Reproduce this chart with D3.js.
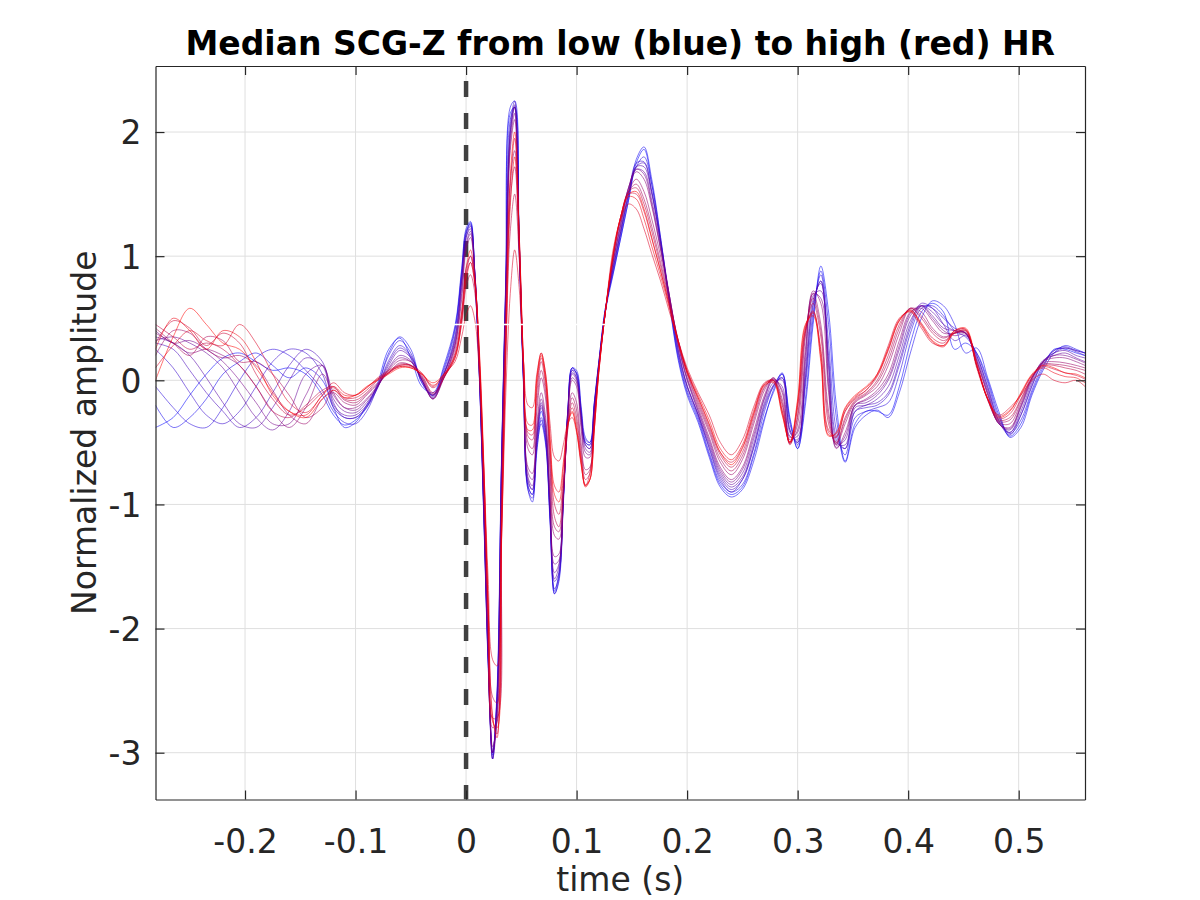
<!DOCTYPE html>
<html><head><meta charset="utf-8">
<script src="https://cdn.jsdelivr.net/npm/d3@7"></script>
<style>body{margin:0;background:#fff}svg{display:block}</style>
</head><body>
<svg id="chart" width="1200" height="900"></svg>
<script>
// ---------- text ----------
const titleText = "Median SCG-Z from low (blue) to high (red) HR";
const xLabelText = "time (s)";
const yLabelText = "Normalized amplitude";
// ---------- axes ----------
const xTicks = [-0.2, -0.1, 0, 0.1, 0.2, 0.3, 0.4, 0.5];
const yTicks = [-3, -2, -1, 0, 1, 2];
const xDomain = [-0.281, 0.56];
const yDomain = [-3.377, 2.532];
const onsetTime = [0];
const whiteMarkTimes = [-0.012, 0.128];
const whiteMarkValue = [0.45];
// ---------- sample times (s) ----------
const times = [
 -0.281,-0.265,-0.25,-0.235,-0.22,-0.205,-0.19,-0.175,-0.16,-0.145,-0.13,-0.12,-0.11,-0.10,-0.09,-0.08,-0.07,-0.06,-0.05,-0.04,-0.03,-0.02,-0.01,
 -0.004,0.000,0.004,0.008,0.012,0.016,0.020,0.024,0.028,0.032,0.036,0.040,0.044,0.048,0.052,0.056,0.060,0.064,0.068,0.072,0.076,0.080,0.084,0.088,0.092,0.096,0.100,0.104,0.108,0.112,0.116,0.120,0.126,
 0.133,0.140,0.147,0.154,0.161,0.168,0.176,0.184,0.192,0.200,
 0.210,0.220,0.230,0.240,0.250,0.260,0.270,
 0.278,0.286,0.293,0.300,0.307,0.314,0.321,0.328,0.335,0.343,0.352,0.362,
 0.372,0.382,0.392,0.402,0.412,0.422,0.432,0.442,0.452,0.462,0.472,0.482,0.492,0.502,0.512,0.522,0.532,0.542,0.552,0.560
];
// ---------- median beats, lowest HR (blue) to highest HR (red) ----------
const hr01 = [
 -0.38,-0.30,-0.12,0.05,0.18,0.22,0.15,0.08,0.10,0.05,-0.12,-0.28,-0.36,-0.32,-0.22,-0.02,0.25,0.34,0.18,-0.05,-0.10,0.10,0.42,
 0.85,1.18,1.27,0.85,0.08,-1.00,-2.20,-3.02,-2.55,-0.70,0.75,2.15,2.20,1.10,0.00,-0.85,-0.92,-0.50,-0.25,-0.45,-1.10,-1.70,-1.55,-0.95,-0.25,0.10,0.05,-0.25,-0.50,-0.52,-0.20,0.12,0.55,
 0.85,1.15,1.45,1.75,1.86,1.58,1.12,0.62,0.18,-0.10,
 -0.32,-0.60,-0.84,-0.92,-0.86,-0.62,-0.30,
 -0.10,0.05,-0.30,-0.55,-0.20,0.45,0.92,0.55,-0.20,-0.65,-0.35,-0.25,
 -0.25,-0.28,-0.05,0.30,0.55,0.62,0.55,0.25,0.30,0.22,0.00,-0.28,-0.45,-0.35,-0.10,0.10,0.25,0.25,0.22,0.20];
const hr02 = [
 -0.20,-0.38,-0.30,-0.15,0.05,0.15,0.22,0.12,0.02,0.10,0.00,-0.22,-0.38,-0.34,-0.20,-0.04,0.22,0.35,0.25,-0.02,-0.12,0.12,0.44,
 0.90,1.22,1.28,0.82,0.05,-1.08,-2.28,-3.05,-2.58,-0.72,0.80,2.20,2.25,1.08,-0.02,-0.88,-0.98,-0.58,-0.32,-0.50,-1.12,-1.72,-1.62,-1.00,-0.28,0.10,0.08,-0.20,-0.46,-0.50,-0.18,0.14,0.58,
 0.86,1.15,1.45,1.78,1.88,1.62,1.15,0.62,0.16,-0.12,
 -0.34,-0.62,-0.86,-0.94,-0.88,-0.66,-0.32,
 -0.08,0.06,-0.32,-0.55,-0.15,0.50,0.88,0.45,-0.30,-0.66,-0.38,-0.28,
 -0.24,-0.30,-0.10,0.22,0.50,0.64,0.60,0.45,0.22,0.26,0.02,-0.25,-0.46,-0.38,-0.12,0.08,0.22,0.28,0.25,0.22];
const hr03 = [
 -0.05,-0.22,-0.35,-0.38,-0.22,0.00,0.18,0.25,0.20,0.08,-0.08,-0.25,-0.34,-0.35,-0.25,-0.05,0.20,0.32,0.22,-0.02,-0.12,0.08,0.40,
 0.88,1.20,1.26,0.80,0.02,-1.10,-2.30,-3.05,-2.50,-0.65,0.85,2.10,2.20,1.05,-0.05,-0.88,-0.95,-0.55,-0.35,-0.52,-1.15,-1.72,-1.60,-0.98,-0.28,0.08,0.06,-0.22,-0.48,-0.50,-0.18,0.14,0.58,
 0.88,1.18,1.48,1.72,1.80,1.58,1.15,0.65,0.20,-0.08,
 -0.30,-0.58,-0.82,-0.90,-0.84,-0.60,-0.25,
 -0.05,0.05,-0.35,-0.52,-0.05,0.55,0.85,0.30,-0.40,-0.60,-0.30,-0.25,
 -0.22,-0.18,0.05,0.38,0.58,0.60,0.52,0.40,0.35,0.22,-0.02,-0.30,-0.43,-0.32,-0.08,0.12,0.24,0.27,0.24,0.22];
const hr04 = [
 0.25,0.10,-0.10,-0.28,-0.35,-0.25,-0.05,0.15,0.25,0.22,0.05,-0.22,-0.30,-0.30,-0.22,-0.06,0.16,0.28,0.20,0.00,-0.12,0.06,0.36,
 0.82,1.18,1.25,0.85,0.05,-1.05,-2.25,-3.00,-2.55,-0.70,0.80,2.05,2.25,1.15,-0.02,-0.85,-0.92,-0.52,-0.30,-0.48,-1.10,-1.68,-1.58,-0.95,-0.25,0.10,0.05,-0.25,-0.50,-0.52,-0.20,0.12,0.56,
 0.90,1.20,1.50,1.75,1.76,1.52,1.10,0.65,0.22,-0.05,
 -0.28,-0.55,-0.80,-0.90,-0.80,-0.55,-0.22,
 -0.05,0.02,-0.40,-0.50,0.00,0.60,0.80,0.20,-0.45,-0.55,-0.25,-0.22,
 -0.20,-0.12,0.12,0.42,0.60,0.58,0.50,0.42,0.38,0.20,-0.05,-0.32,-0.42,-0.28,-0.05,0.15,0.22,0.26,0.23,0.20];
const hr05 = [
 0.30,0.25,0.08,-0.10,-0.25,-0.38,-0.30,-0.10,0.12,0.25,0.15,-0.18,-0.30,-0.30,-0.21,-0.06,0.14,0.26,0.19,0.00,-0.13,0.05,0.34,
 0.80,1.15,1.24,0.86,0.08,-1.02,-2.22,-3.00,-2.62,-0.78,0.72,2.00,2.20,1.18,0.02,-0.80,-0.88,-0.48,-0.22,-0.42,-1.05,-1.62,-1.55,-0.95,-0.28,0.06,0.02,-0.28,-0.52,-0.55,-0.22,0.12,0.56,
 0.90,1.20,1.50,1.72,1.75,1.52,1.12,0.66,0.24,-0.05,
 -0.28,-0.54,-0.78,-0.88,-0.80,-0.55,-0.20,
 -0.04,0.02,-0.40,-0.50,0.02,0.62,0.80,0.15,-0.48,-0.55,-0.25,-0.20,
 -0.18,-0.10,0.15,0.45,0.62,0.58,0.45,0.32,0.36,0.20,-0.06,-0.33,-0.44,-0.28,-0.04,0.14,0.24,0.26,0.24,0.22];
const hr06 = [
 0.35,0.30,0.20,0.02,-0.18,-0.35,-0.38,-0.22,0.00,0.18,0.12,-0.20,-0.28,-0.28,-0.20,-0.05,0.12,0.24,0.18,0.00,-0.14,0.05,0.32,
 0.80,1.15,1.22,0.82,0.05,-1.05,-2.25,-3.00,-2.60,-0.75,0.75,2.00,2.22,1.15,0.00,-0.82,-0.88,-0.45,-0.18,-0.40,-1.05,-1.60,-1.50,-0.92,-0.25,0.08,0.02,-0.28,-0.52,-0.55,-0.22,0.12,0.56,
 0.92,1.22,1.52,1.72,1.72,1.50,1.12,0.68,0.25,-0.04,
 -0.27,-0.52,-0.76,-0.86,-0.78,-0.52,-0.18,
 -0.02,0.00,-0.42,-0.48,0.08,0.65,0.78,0.10,-0.50,-0.52,-0.22,-0.20,
 -0.15,-0.05,0.20,0.48,0.60,0.55,0.45,0.40,0.38,0.18,-0.08,-0.34,-0.42,-0.25,-0.02,0.15,0.22,0.24,0.20,0.18];
const hr07 = [
 0.32,0.35,0.30,0.22,0.10,-0.10,-0.30,-0.40,-0.25,0.05,0.12,-0.15,-0.25,-0.26,-0.18,-0.05,0.10,0.20,0.16,0.00,-0.15,0.05,0.30,
 0.75,1.10,1.20,0.85,0.10,-1.00,-2.20,-3.05,-2.70,-0.85,0.70,1.95,2.20,1.15,0.02,-0.78,-0.85,-0.45,-0.20,-0.38,-1.00,-1.55,-1.48,-0.95,-0.28,0.05,0.00,-0.30,-0.55,-0.58,-0.25,0.10,0.55,
 0.95,1.25,1.55,1.70,1.68,1.45,1.08,0.68,0.28,0.00,
 -0.25,-0.50,-0.74,-0.84,-0.75,-0.48,-0.15,
 0.00,-0.05,-0.45,-0.45,0.15,0.68,0.72,0.00,-0.52,-0.48,-0.20,-0.18,
 -0.12,0.00,0.25,0.52,0.60,0.52,0.42,0.40,0.38,0.16,-0.10,-0.35,-0.40,-0.22,0.00,0.16,0.20,0.22,0.18,0.15];
const hr08 = [
 0.40,0.30,0.32,0.25,0.15,0.00,-0.18,-0.35,-0.35,-0.12,0.12,-0.10,-0.22,-0.24,-0.16,-0.05,0.09,0.18,0.15,0.01,-0.15,0.03,0.28,
 0.70,1.08,1.18,0.86,0.12,-0.96,-2.18,-3.00,-2.72,-0.90,0.68,1.90,2.15,1.15,0.04,-0.74,-0.80,-0.40,-0.15,-0.34,-0.95,-1.48,-1.45,-0.94,-0.30,0.02,-0.02,-0.34,-0.58,-0.60,-0.26,0.10,0.55,
 0.95,1.26,1.55,1.70,1.66,1.42,1.06,0.68,0.29,0.01,
 -0.24,-0.48,-0.72,-0.82,-0.72,-0.45,-0.14,
 0.01,-0.08,-0.46,-0.42,0.20,0.70,0.66,-0.05,-0.54,-0.45,-0.20,-0.16,
 -0.10,0.02,0.28,0.54,0.60,0.50,0.40,0.36,0.37,0.16,-0.11,-0.35,-0.39,-0.21,0.01,0.15,0.20,0.20,0.17,0.14];
const hr09 = [
 0.38,0.30,0.22,0.25,0.20,0.12,-0.05,-0.25,-0.38,-0.22,0.05,-0.12,-0.22,-0.22,-0.15,-0.04,0.08,0.16,0.15,0.02,-0.15,0.02,0.28,
 0.65,1.05,1.15,0.85,0.12,-0.95,-2.15,-2.95,-2.75,-0.95,0.65,1.85,2.10,1.15,0.05,-0.70,-0.75,-0.35,-0.10,-0.30,-0.90,-1.42,-1.40,-0.92,-0.30,0.00,-0.05,-0.38,-0.62,-0.62,-0.28,0.10,0.55,
 0.95,1.28,1.55,1.68,1.62,1.40,1.05,0.68,0.30,0.02,
 -0.22,-0.46,-0.70,-0.80,-0.70,-0.42,-0.12,
 0.02,-0.10,-0.48,-0.40,0.25,0.72,0.62,-0.10,-0.55,-0.42,-0.20,-0.15,
 -0.08,0.05,0.32,0.55,0.58,0.48,0.38,0.38,0.38,0.15,-0.12,-0.35,-0.38,-0.20,0.02,0.15,0.18,0.18,0.15,0.12];
const hr10 = [
 0.20,0.40,0.38,0.25,0.18,0.20,0.12,-0.08,-0.28,-0.35,-0.15,-0.10,-0.18,-0.20,-0.12,-0.03,0.06,0.14,0.12,0.02,-0.12,0.02,0.25,
 0.55,0.90,1.00,0.80,0.15,-0.85,-2.00,-2.80,-2.75,-1.10,0.55,1.60,1.85,1.10,0.05,-0.55,-0.60,-0.25,0.02,-0.15,-0.75,-1.25,-1.28,-0.90,-0.35,-0.10,-0.18,-0.50,-0.72,-0.70,-0.32,0.08,0.55,
 0.98,1.30,1.52,1.62,1.52,1.30,1.00,0.65,0.32,0.05,
 -0.20,-0.42,-0.66,-0.76,-0.64,-0.36,-0.08,
 0.02,-0.15,-0.50,-0.35,0.35,0.70,0.45,-0.25,-0.52,-0.35,-0.18,-0.12,
 -0.05,0.12,0.38,0.58,0.55,0.42,0.35,0.38,0.38,0.12,-0.15,-0.34,-0.35,-0.18,0.02,0.14,0.15,0.14,0.12,0.10];
const hr11 = [
 0.42,0.30,0.20,0.35,0.32,0.15,0.15,0.05,-0.12,-0.30,-0.22,-0.08,-0.16,-0.18,-0.11,-0.02,0.06,0.13,0.12,0.03,-0.11,0.02,0.22,
 0.50,0.84,0.95,0.76,0.15,-0.82,-1.92,-2.72,-2.72,-1.18,0.40,1.45,1.72,1.05,0.08,-0.50,-0.55,-0.18,0.08,-0.10,-0.68,-1.18,-1.22,-0.88,-0.38,-0.14,-0.24,-0.55,-0.76,-0.72,-0.34,0.08,0.55,
 1.00,1.32,1.52,1.58,1.46,1.24,0.95,0.64,0.32,0.06,
 -0.18,-0.40,-0.63,-0.73,-0.61,-0.33,-0.06,
 0.01,-0.18,-0.51,-0.30,0.38,0.66,0.40,-0.30,-0.51,-0.32,-0.17,-0.11,
 -0.02,0.16,0.42,0.58,0.52,0.40,0.34,0.38,0.39,0.12,-0.16,-0.33,-0.32,-0.16,0.02,0.13,0.13,0.12,0.10,0.08];
const hr12 = [
 0.45,0.35,0.25,0.30,0.25,0.12,-0.05,-0.25,-0.30,-0.20,-0.08,-0.05,-0.15,-0.16,-0.10,0.00,0.06,0.12,0.12,0.04,-0.10,0.02,0.20,
 0.45,0.75,0.85,0.70,0.15,-0.75,-1.80,-2.55,-2.60,-1.30,0.20,1.20,1.50,1.00,0.10,-0.45,-0.48,-0.10,0.15,-0.05,-0.60,-1.10,-1.18,-0.85,-0.40,-0.18,-0.30,-0.60,-0.80,-0.75,-0.35,0.08,0.55,
 1.00,1.32,1.52,1.55,1.42,1.20,0.92,0.62,0.32,0.08,
 -0.16,-0.38,-0.60,-0.70,-0.58,-0.30,-0.05,
 0.00,-0.20,-0.52,-0.28,0.40,0.62,0.35,-0.35,-0.50,-0.30,-0.16,-0.10,
 0.00,0.20,0.45,0.58,0.50,0.38,0.32,0.38,0.40,0.12,-0.16,-0.32,-0.30,-0.15,0.03,0.12,0.12,0.10,0.08,0.05];
const hr13 = [
 0.30,0.48,0.42,0.28,0.38,0.30,0.05,-0.15,-0.28,-0.22,-0.10,-0.06,-0.14,-0.14,-0.08,0.01,0.07,0.11,0.11,0.05,-0.06,0.03,0.18,
 0.50,0.85,1.00,0.80,0.22,-0.70,-1.85,-2.72,-2.85,-1.25,0.30,1.55,1.95,1.20,0.15,-0.42,-0.44,-0.05,0.18,0.00,-0.55,-1.00,-1.08,-0.78,-0.38,-0.22,-0.35,-0.62,-0.84,-0.80,-0.40,0.06,0.55,
 1.00,1.32,1.50,1.50,1.36,1.14,0.88,0.60,0.31,0.07,
 -0.14,-0.36,-0.58,-0.66,-0.54,-0.27,-0.03,
 0.00,-0.24,-0.51,-0.22,0.42,0.56,0.22,-0.42,-0.46,-0.25,-0.14,-0.08,
 0.03,0.24,0.48,0.57,0.46,0.34,0.30,0.40,0.41,0.12,-0.15,-0.31,-0.27,-0.12,0.04,0.11,0.09,0.06,0.04,0.01];
const hr14 = [
 0.10,0.28,0.40,0.32,0.28,0.45,0.30,0.05,-0.18,-0.26,-0.12,-0.02,-0.10,-0.12,-0.06,0.02,0.08,0.12,0.12,0.06,-0.05,0.05,0.15,
 0.35,0.52,0.60,0.48,0.05,-0.70,-1.60,-2.25,-2.30,-1.30,-0.10,0.70,1.05,0.75,0.15,-0.20,-0.22,0.05,0.22,0.05,-0.35,-0.62,-0.65,-0.52,-0.35,-0.30,-0.42,-0.68,-0.85,-0.75,-0.35,0.10,0.55,
 1.05,1.30,1.42,1.38,1.22,1.02,0.80,0.55,0.32,0.10,
 -0.10,-0.28,-0.50,-0.60,-0.48,-0.22,-0.02,
 0.00,-0.25,-0.50,-0.20,0.40,0.55,0.25,-0.40,-0.45,-0.25,-0.15,-0.08,
 0.05,0.28,0.50,0.55,0.42,0.30,0.28,0.38,0.40,0.10,-0.15,-0.28,-0.22,-0.12,0.00,0.05,0.00,-0.02,0.00,-0.05];
const hr15 = [
 0.25,0.50,0.40,0.25,0.40,0.35,0.15,-0.12,-0.25,-0.28,-0.12,-0.05,-0.12,-0.12,-0.06,0.01,0.06,0.11,0.10,0.05,-0.04,0.04,0.18,
 0.48,0.80,0.95,0.78,0.20,-0.72,-1.85,-2.70,-2.88,-1.35,0.20,1.40,1.80,1.15,0.15,-0.35,-0.36,0.02,0.22,0.05,-0.45,-0.85,-0.90,-0.66,-0.36,-0.26,-0.40,-0.66,-0.86,-0.80,-0.40,0.06,0.55,
 1.02,1.32,1.48,1.46,1.30,1.08,0.84,0.58,0.31,0.08,
 -0.12,-0.32,-0.55,-0.64,-0.52,-0.25,-0.03,
 -0.01,-0.27,-0.50,-0.17,0.44,0.54,0.18,-0.44,-0.43,-0.23,-0.13,-0.06,
 0.04,0.26,0.49,0.56,0.44,0.31,0.27,0.39,0.41,0.12,-0.15,-0.29,-0.24,-0.11,0.04,0.10,0.06,0.03,0.02,-0.02];
const hr16 = [
 0.00,0.35,0.58,0.45,0.30,0.25,0.10,-0.10,-0.25,-0.30,-0.15,-0.08,-0.14,-0.12,-0.05,0.00,0.05,0.10,0.10,0.05,-0.02,0.05,0.20,
 0.55,0.90,1.05,0.80,0.25,-0.65,-1.85,-2.75,-2.80,-1.20,0.40,1.65,2.00,1.20,0.15,-0.40,-0.40,0.00,0.20,0.00,-0.50,-0.92,-0.98,-0.70,-0.35,-0.25,-0.40,-0.65,-0.85,-0.80,-0.40,0.05,0.55,
 1.00,1.32,1.50,1.52,1.38,1.15,0.88,0.60,0.30,0.06,
 -0.14,-0.35,-0.58,-0.68,-0.55,-0.28,-0.04,
 -0.02,-0.28,-0.50,-0.15,0.45,0.52,0.15,-0.45,-0.42,-0.22,-0.12,-0.05,
 0.05,0.25,0.48,0.56,0.45,0.32,0.28,0.40,0.42,0.14,-0.15,-0.30,-0.25,-0.10,0.05,0.12,0.10,0.06,0.05,0.02];
const seriesList = [hr01, hr02, hr03, hr04, hr05, hr06, hr07, hr08, hr09, hr10, hr11, hr12, hr13, hr14, hr15, hr16];

seriesList.forEach((s, i) => { if (s.length !== times.length) console.error("series " + (i+1) + " length " + s.length + " != " + times.length); });

// ---------- layout ----------
const svg = d3.select("#chart");
const plot = {left: 155.5, right: 1085, top: 66, bottom: 799.5};
const x = d3.scaleLinear().domain(xDomain).range([plot.left, plot.right]);
const y = d3.scaleLinear().domain(yDomain).range([plot.bottom, plot.top]);
const axisColor = "#262626";
const font = "'DejaVu Sans', sans-serif";

svg.append("defs").append("clipPath").attr("id", "clip")
  .append("rect").attr("x", plot.left).attr("y", plot.top)
  .attr("width", plot.right - plot.left).attr("height", plot.bottom - plot.top);

// grid
const grid = svg.append("g").attr("stroke", "#dfdfdf").attr("stroke-width", 1);
grid.selectAll(".gx").data(xTicks).join("line")
  .attr("x1", d => x(d)).attr("x2", d => x(d)).attr("y1", plot.top).attr("y2", plot.bottom);
grid.selectAll(".gy").data(yTicks).join("line")
  .attr("y1", d => y(d)).attr("y2", d => y(d)).attr("x1", plot.left).attr("x2", plot.right);

// onset line (beneath traces)
const clipped = svg.append("g").attr("clip-path", "url(#clip)");
clipped.selectAll(".onset").data(onsetTime).join("line")
  .attr("x1", d => x(d)).attr("x2", d => x(d))
  .attr("y1", plot.top).attr("y2", plot.bottom)
  .attr("stroke", "#404040").attr("stroke-width", 4.5)
  .attr("stroke-dasharray", "16,16").attr("stroke-dashoffset", 17);

// traces
const n = seriesList.length;
const color = i => { const f = i / (n - 1); return d3.rgb(Math.round(255 * f), 0, Math.round(255 * (1 - f))).toString(); };
const line = d3.line().x((d, i) => x(times[i])).y(d => y(d)).curve(d3.curveCatmullRom.alpha(0.5));
clipped.selectAll(".trace").data(seriesList).join("path")
  .attr("d", d => line(d)).attr("fill", "none")
  .attr("stroke", (d, i) => color(i)).attr("stroke-opacity", 0.55).attr("stroke-width", 1);

// white marker segment
clipped.append("line")
  .attr("x1", x(whiteMarkTimes[0])).attr("x2", x(whiteMarkTimes[1]))
  .attr("y1", y(whiteMarkValue[0])).attr("y2", y(whiteMarkValue[0]))
  .attr("stroke", "#ffffff").attr("stroke-width", 1.5);

// axes with inward ticks on all four sides
const tickLen = 9;
const fmtX = d => String(Math.round(d * 10) / 10);
const fmtY = d => String(d);
const gB = svg.append("g").attr("transform", `translate(0,${plot.bottom})`)
  .call(d3.axisBottom(x).tickValues(xTicks).tickFormat(fmtX).tickSizeInner(-tickLen).tickSizeOuter(0).tickPadding(0));
const gT = svg.append("g").attr("transform", `translate(0,${plot.top})`)
  .call(d3.axisTop(x).tickValues(xTicks).tickFormat("").tickSizeInner(-tickLen).tickSizeOuter(0));
const gL = svg.append("g").attr("transform", `translate(${plot.left},0)`)
  .call(d3.axisLeft(y).tickValues(yTicks).tickFormat(fmtY).tickSizeInner(-tickLen).tickSizeOuter(0).tickPadding(0));
const gR = svg.append("g").attr("transform", `translate(${plot.right},0)`)
  .call(d3.axisRight(y).tickValues(yTicks).tickFormat("").tickSizeInner(-tickLen).tickSizeOuter(0));
[gB, gT, gL, gR].forEach(g => {
  g.select(".domain").attr("stroke", axisColor).attr("stroke-width", 1.2);
  g.selectAll(".tick line").attr("stroke", axisColor).attr("stroke-width", 1.2);
  g.selectAll("text").attr("fill", axisColor).style("font-family", font).style("font-size", "33px");
});
gB.selectAll(".tick text").attr("y", 53).attr("dy", null);
gL.selectAll(".tick text").attr("x", -14).attr("dy", "0.36em");

// labels
svg.append("text").attr("x", (plot.left + plot.right) / 2).attr("y", 891)
  .attr("text-anchor", "middle").attr("fill", axisColor)
  .style("font-family", font).style("font-size", "33px").text(xLabelText);
svg.append("text").attr("transform", `translate(96,${(plot.top + plot.bottom) / 2}) rotate(-90)`)
  .attr("text-anchor", "middle").attr("fill", axisColor)
  .style("font-family", font).style("font-size", "33px").text(yLabelText);
svg.append("text").attr("x", (plot.left + plot.right) / 2).attr("y", 55)
  .attr("text-anchor", "middle").attr("fill", "#000")
  .style("font-family", font).style("font-size", "33px").style("font-weight", "bold").text(titleText);
</script>
</body></html>
